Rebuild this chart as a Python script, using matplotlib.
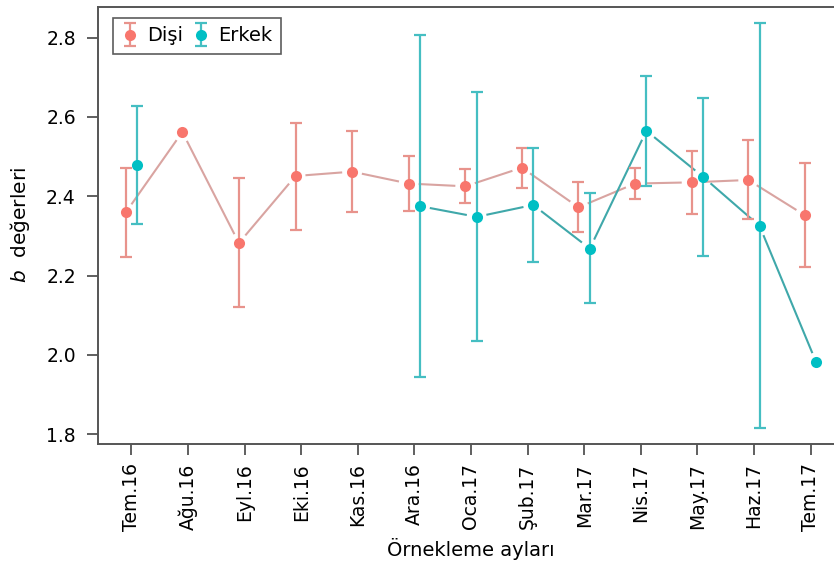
import numpy as np
import matplotlib
matplotlib.use("Agg")
import matplotlib.pyplot as plt
from matplotlib.legend_handler import HandlerErrorbar

nan = np.nan

months = ['Tem.16', 'Ağu.16', 'Eyl.16', 'Eki.16', 'Kas.16', 'Ara.16', 'Oca.17',
          'Şub.17', 'Mar.17', 'Nis.17', 'May.17', 'Haz.17', 'Tem.17']

disi = [2.359, 2.562, 2.282, 2.451, 2.462, 2.432, 2.425, 2.472, 2.372, 2.432, 2.435, 2.441, 2.352]
disi_lo = [2.247, nan, 2.121, 2.316, 2.361, 2.363, 2.384, 2.422, 2.309, 2.392, 2.354, 2.342, 2.222]
disi_hi = [2.470, nan, 2.446, 2.584, 2.564, 2.501, 2.468, 2.522, 2.436, 2.472, 2.514, 2.541, 2.483]

erkek = [2.478, nan, nan, nan, nan, 2.375, 2.348, 2.378, 2.268, 2.565, 2.449, 2.325, 1.981]
erkek_lo = [2.330, nan, nan, nan, nan, 1.945, 2.035, 2.235, 2.130, 2.426, 2.249, 1.816, nan]
erkek_hi = [2.627, nan, nan, nan, nan, 2.806, 2.662, 2.522, 2.409, 2.703, 2.647, 2.838, nan]

plt.rcParams['font.family'] = ['DejaVu Sans']


def gapped_line(ax, x, y, color, gap=11):
    # R style type="b": segments stop short of the points
    pts = ax.transData.transform(np.column_stack([x, y]))
    inv = ax.transData.inverted()
    for p0, p1 in zip(pts[:-1], pts[1:]):
        if np.isnan(p0).any() or np.isnan(p1).any():
            continue
        d = p1 - p0
        length = np.hypot(*d)
        if length <= 2 * gap:
            continue
        u = d / length
        a = inv.transform(p0 + u * gap)
        b = inv.transform(p1 - u * gap)
        ax.plot([a[0], b[0]], [a[1], b[1]], color=color, lw=1.5, zorder=1)


def draw_series(ax, x, y, lo, hi, mcolor, ecolor, lcolor, label):
    x = np.asarray(x, float)
    y = np.asarray(y, float)
    lo = np.asarray(lo, float)
    hi = np.asarray(hi, float)
    gapped_line(ax, x, y, lcolor)
    m = ~np.isnan(lo)
    ax.errorbar(x[m], y[m], yerr=[y[m] - lo[m], hi[m] - y[m]], fmt='none',
                ecolor=ecolor, elinewidth=1.6, capsize=4.5, capthick=1.6, zorder=2)
    ok = ~np.isnan(y)
    ax.plot(x[ok], y[ok], 'o', color=mcolor, ms=8, mec='none', zorder=3)
    # legend handle (nan data, so nothing is drawn in the axes)
    return ax.errorbar([nan], [nan], yerr=[[nan], [nan]], fmt='o', color=mcolor, ms=8,
                       mec='none', ecolor=ecolor, elinewidth=1.6, capsize=4.5,
                       capthick=1.6, label=label)


fig = plt.figure(figsize=(8.34, 5.75), dpi=100)
ax = fig.add_axes([0.1175, 0.2278, 0.8944, 0.7605])
ax.set_xlim(-0.59, 12.59)
ax.set_ylim(1.775, 2.878)

xi = np.arange(len(months))
h1 = draw_series(ax, xi - 0.1, disi, disi_lo, disi_hi,
                 '#F8766D', '#E8938C', '#D9A4A1', 'Dişi')
h2 = draw_series(ax, xi + 0.1, erkek, erkek_lo, erkek_hi,
                 '#00BFC4', '#45BEC2', '#3FA8AA', 'Erkek')

ax.set_xticks(xi)
ax.set_xticklabels(months, rotation=90, fontsize=13.5)
ax.set_yticks([1.8, 2.0, 2.2, 2.4, 2.6, 2.8])
ax.set_yticklabels(['1.8', '2.0', '2.2', '2.4', '2.6', '2.8'], fontsize=13.5)
ax.tick_params(axis='x', length=8, width=1.2, color='#444444', pad=6)
ax.tick_params(axis='y', length=8, width=1.2, color='#444444', pad=8)
for s in ax.spines.values():
    s.set_color('#555555')
    s.set_linewidth(1.4)

ax.set_xlabel('Örnekleme ayları', fontsize=14, labelpad=5)
ax.set_ylabel('$b$  değerleri', fontsize=14.5, labelpad=10)

leg = ax.legend(handles=[h1, h2], loc='upper left', ncol=2, fontsize=14,
                frameon=True, fancybox=False, handlelength=0.9, handletextpad=0.4,
                columnspacing=0.5, borderpad=0.45, borderaxespad=0,
                bbox_to_anchor=(0.02, 0.975),
                handler_map={type(h1): HandlerErrorbar(xerr_size=0.6)})
leg.get_frame().set_edgecolor('#333333')
leg.get_frame().set_linewidth(1.2)

fig.savefig('out.png', dpi=100)
